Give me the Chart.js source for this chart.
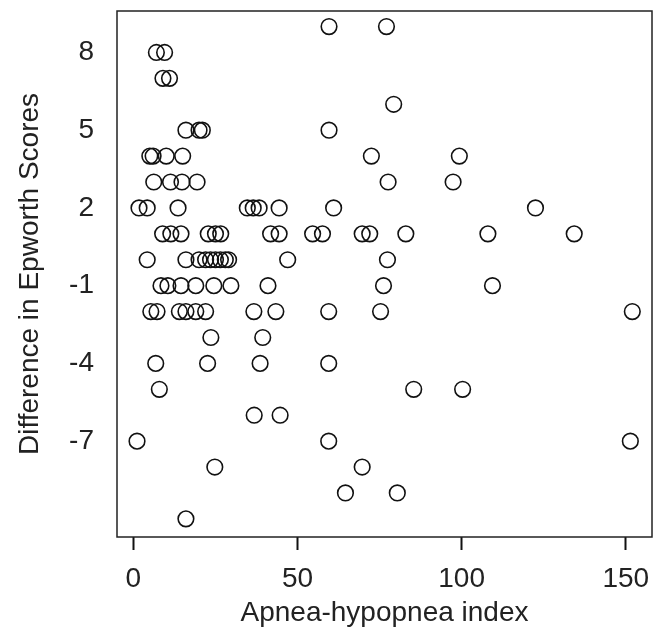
<!DOCTYPE html>
<html>
<head>
<meta charset="utf-8">
<script src="https://cdn.jsdelivr.net/npm/chart.js@4.4.1/dist/chart.umd.min.js"></script>
<style>
  html, body { margin: 0; padding: 0; background: #fff; }
  #wrap { width: 653px; height: 630px; }
</style>
</head>
<body>
<div id="wrap"><canvas id="scatter"></canvas></div>
<script>
// Apnea-hypopnea index (x) and change in Epworth score (y), one entry per patient
const ahi = [
    59.6, 77.1,
    7, 9.5,
    9, 11,
    79.3,
    16, 20, 21, 59.6,
    5, 6, 10, 15, 72.5, 99.3,
    6.2, 11.3, 14.8, 19.4, 77.6, 97.4,
    1.7, 4.2, 13.6, 34.7, 36.5, 38.3, 44.4, 61, 122.5,
    8.9, 11.4, 14.5, 22.8, 25, 26.6, 41.8, 44.4, 54.6, 57.6, 69.7, 72, 83, 108, 134.3,
    4.2, 16, 20, 22, 23.5, 25, 26.5, 28, 29, 47, 77.4,
    8.4, 10.5, 14.5, 19, 24.5, 29.7, 41, 76.2, 109.4,
    5.3, 7.2, 14, 16, 19, 22, 36.7, 43.4, 59.5, 75.3, 152,
    23.6, 39.4,
    6.8, 22.6, 38.6, 59.5,
    7.9, 85.4, 100.3,
    36.8, 44.7,
    1.1, 59.5, 151.4,
    24.8, 69.7,
    64.6, 80.4,
    16
];
const epworthDiff = [
    9, 9,
    8, 8,
    7, 7,
    6,
    5, 5, 5, 5,
    4, 4, 4, 4, 4, 4,
    3, 3, 3, 3, 3, 3,
    2, 2, 2, 2, 2, 2, 2, 2, 2,
    1, 1, 1, 1, 1, 1, 1, 1, 1, 1, 1, 1, 1, 1, 1,
    0, 0, 0, 0, 0, 0, 0, 0, 0, 0, 0,
    -1, -1, -1, -1, -1, -1, -1, -1, -1,
    -2, -2, -2, -2, -2, -2, -2, -2, -2, -2, -2,
    -3, -3,
    -4, -4, -4, -4,
    -5, -5, -5,
    -6, -6,
    -7, -7, -7,
    -8, -8,
    -9, -9,
    -10
];
const xTicks = [0, 50, 100, 150];
const yTicks = [-7, -4, -1, 2, 5, 8];

const points = ahi.map((x, i) => ({ x: x, y: epworthDiff[i] }));

// R-style box round the plot region
const boxPlugin = {
    id: 'box',
    afterDraw: (chart) => {
        const a = chart.chartArea;
        const ctx = chart.ctx;
        ctx.save();
        ctx.strokeStyle = '#222';
        ctx.lineWidth = 1.5;
        ctx.strokeRect(a.left, a.top, a.right - a.left, a.bottom - a.top);
        ctx.restore();
    }
};

const tickFont = { family: 'Liberation Sans, Arial, sans-serif', size: 28 };

new Chart(document.getElementById('scatter').getContext('2d'), {
    type: 'scatter',
    data: {
        datasets: [{
            data: points,
            pointStyle: 'circle',
            pointRadius: 7.8,
            pointHoverRadius: 7.8,
            borderColor: '#111',
            borderWidth: 1.6,
            backgroundColor: 'rgba(0,0,0,0)'
        }]
    },
    options: {
        responsive: true,
        maintainAspectRatio: false,
        animation: false,
        layout: { autoPadding: false, padding: { top: 11, right: 1, left: 0, bottom: 0 } },
        plugins: {
            legend: { display: false },
            tooltip: { enabled: false }
        },
        scales: {
            x: {
                type: 'linear',
                min: -5,
                max: 158,
                afterBuildTicks: (s) => { s.ticks = xTicks.map(v => ({ value: v })); },
                afterFit: (s) => {
                    s.height = 93;
                    s.paddingLeft = 0;
                    s.paddingRight = 0;
                },
                border: { display: false },
                grid: {
                    display: true,
                    drawOnChartArea: false,
                    drawTicks: true,
                    tickLength: 13,
                    tickWidth: 2,
                    tickColor: '#111'
                },
                ticks: { color: '#222', font: tickFont, padding: 12, maxRotation: 0 },
                title: {
                    display: true,
                    text: 'Apnea-hypopnea index',
                    color: '#222',
                    font: tickFont,
                    padding: { top: 0, bottom: 0 }
                }
            },
            y: {
                type: 'linear',
                min: -10.7,
                max: 9.6,
                afterBuildTicks: (s) => { s.ticks = yTicks.map(v => ({ value: v })); },
                afterFit: (s) => {
                    s.width = 117;
                    s.paddingTop = 0;
                    s.paddingBottom = 0;
                },
                border: { display: false },
                grid: { display: false, drawTicks: false },
                ticks: { color: '#222', font: tickFont, padding: 23 },
                title: {
                    display: true,
                    text: 'Difference in Epworth Scores',
                    color: '#222',
                    font: tickFont,
                    padding: { top: 13, bottom: 0 }
                }
            }
        }
    },
    plugins: [boxPlugin]
});
</script>
</body>
</html>
